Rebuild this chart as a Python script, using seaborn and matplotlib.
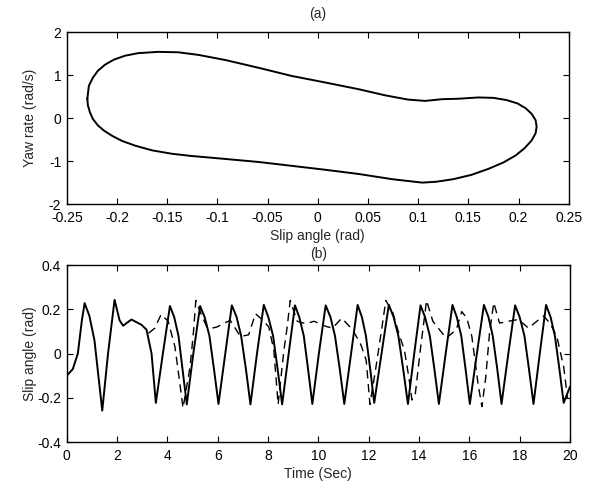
import numpy as np
import pandas as pd
import matplotlib
matplotlib.use("Agg")
import matplotlib.pyplot as plt
import seaborn as sns

# ---------------- data ----------------
# (a) phase-plane loop: slip angle (rad) vs yaw rate (rad/s)
loop_x = [-0.2295, -0.228, -0.224, -0.219, -0.212, -0.203, -0.192, -0.179, -0.159,
          -0.139, -0.119, -0.092, -0.059, -0.026, 0.007, 0.041, 0.067, 0.090,
          0.107, 0.124, 0.140, 0.160, 0.175, 0.188, 0.199, 0.207, 0.213, 0.217,
          0.218, 0.217, 0.213, 0.206, 0.197, 0.185, 0.170, 0.153, 0.135, 0.118,
          0.104, 0.074, 0.041, 0.007, -0.026, -0.059, -0.092, -0.126, -0.145,
          -0.165, -0.182, -0.195, -0.205, -0.213, -0.219, -0.224, -0.227, -0.229,
          -0.2295]
loop_y = [0.45, 0.75, 0.94, 1.10, 1.24, 1.36, 1.45, 1.51, 1.54,
          1.53, 1.47, 1.35, 1.17, 0.98, 0.83, 0.67, 0.53, 0.43,
          0.40, 0.44, 0.45, 0.48, 0.47, 0.42, 0.34, 0.23, 0.10, -0.05,
          -0.20, -0.35, -0.52, -0.70, -0.87, -1.03, -1.18, -1.32, -1.42, -1.48,
          -1.50, -1.42, -1.30, -1.20, -1.11, -1.02, -0.95, -0.88, -0.83,
          -0.75, -0.64, -0.53, -0.41, -0.29, -0.17, -0.02, 0.14, 0.30,
          0.45]

# (b) slip angle time history, solid trace
t_solid = [0.00, 0.24, 0.44, 0.60, 0.71, 0.90, 1.10, 1.41, 1.64, 1.90, 2.10, 2.24,
           2.57, 2.97, 3.17, 3.37, 3.54, 3.82,
           4.10, 4.27, 4.44, 4.60, 4.77, 5.03,
           5.30, 5.48, 5.67, 5.85, 6.03, 6.30,
           6.56, 6.75, 6.93, 7.12, 7.30, 7.56,
           7.83, 8.01, 8.20, 8.38, 8.56, 8.82,
           9.07, 9.24, 9.42, 9.59, 9.76, 10.02,
           10.29, 10.48, 10.66, 10.85, 11.03, 11.30,
           11.56, 11.73, 11.89, 12.06, 12.22, 12.51,
           12.80, 12.99, 13.18, 13.37, 13.56, 13.81,
           14.06, 14.24, 14.43, 14.61, 14.79, 15.06,
           15.33, 15.50, 15.68, 15.85, 16.02, 16.30,
           16.58, 16.76, 16.93, 17.11, 17.28, 17.55,
           17.82, 18.00, 18.19, 18.37, 18.55, 18.80,
           19.05, 19.23, 19.40, 19.58, 19.75, 20.00]
y_solid = [-0.10, -0.07, 0.00, 0.15, 0.228, 0.17, 0.06, -0.258, 0.00, 0.243, 0.15, 0.126,
           0.154, 0.13, 0.108, 0.00, -0.223, 0.00,
           0.215, 0.165, 0.08, -0.07, -0.23, 0.00,
           0.215, 0.165, 0.08, -0.07, -0.228, 0.00,
           0.218, 0.165, 0.08, -0.07, -0.23, 0.00,
           0.22, 0.165, 0.08, -0.07, -0.23, 0.00,
           0.218, 0.165, 0.08, -0.07, -0.228, 0.00,
           0.218, 0.165, 0.08, -0.07, -0.228, 0.00,
           0.22, 0.165, 0.08, -0.07, -0.223, 0.00,
           0.22, 0.165, 0.08, -0.07, -0.228, 0.00,
           0.218, 0.165, 0.08, -0.07, -0.228, 0.00,
           0.22, 0.165, 0.08, -0.07, -0.228, 0.00,
           0.22, 0.165, 0.08, -0.07, -0.228, 0.00,
           0.218, 0.165, 0.08, -0.07, -0.228, 0.00,
           0.22, 0.165, 0.08, -0.07, -0.223, -0.15]

# (b) dashed trace
t_dash = [3.25, 3.50, 3.75, 4.03, 4.30, 4.50, 4.62, 4.90, 5.03, 5.13, 5.37, 5.57,
          5.77, 5.97, 6.20, 6.50, 6.90, 7.23, 7.50, 7.80, 8.03, 8.23, 8.40, 8.63,
          8.76, 8.88, 9.16, 9.50, 9.83, 10.30, 10.56, 10.93, 11.36, 11.69, 11.90,
          12.05, 12.29, 12.49, 12.68, 12.96, 13.20, 13.42, 13.60, 13.72, 13.85,
          14.05, 14.30, 14.55, 15.08, 15.48, 15.70, 15.90, 16.10, 16.35, 16.50,
          16.65, 16.80, 16.97, 17.20, 17.55, 17.95, 18.35, 18.68, 18.95, 19.20,
          19.48, 19.60, 19.75, 19.90]
y_dash = [0.092, 0.115, 0.177, 0.146, 0.03, -0.14, -0.246, -0.06, 0.09, 0.24, 0.17, 0.12,
          0.115, 0.12, 0.135, 0.15, 0.077, 0.085, 0.18, 0.15, 0.12, 0.015, -0.23, 0.015,
          0.12, 0.24, 0.146, 0.135, 0.146, 0.123, 0.115, 0.16, 0.108, 0.04, -0.03,
          -0.23, -0.06, 0.09, 0.24, 0.185, 0.09, 0.015, -0.11, -0.21, -0.185,
          0.015, 0.24, 0.146, 0.07, 0.108, 0.19, 0.16, 0.077, -0.14, -0.24,
          -0.11, 0.09, 0.23, 0.138, 0.146, 0.154, 0.115, 0.146, 0.17, 0.138,
          0.077, 0.015, -0.06, -0.20]

xticks_a = [-0.25, -0.2, -0.15, -0.1, -0.05, 0, 0.05, 0.1, 0.15, 0.2, 0.25]
xticklabels_a = ["-0.25", "-0.2", "-0.15", "-0.1", "-0.05", "0", "0.05", "0.1", "0.15", "0.2", "0.25"]
yticks_a = [-2, -1, 0, 1, 2]
yticklabels_a = ["-2", "-1", "0", "1", "2"]
xticks_b = [0, 2, 4, 6, 8, 10, 12, 14, 16, 18, 20]
xticklabels_b = ["0", "2", "4", "6", "8", "10", "12", "14", "16", "18", "20"]
yticks_b = [-0.4, -0.2, 0, 0.2, 0.4]
yticklabels_b = ["-0.4", "-0.2", "0", "0.2", "0.4"]

# ---------------- style ----------------
sns.set_style("ticks")
plt.rcParams["font.family"] = ["Liberation Sans", "DejaVu Sans"]
FS = 10
plt.rcParams["font.size"] = FS

fig = plt.figure(figsize=(6.07, 4.86), dpi=100)
ax1 = fig.add_axes([0.110, 0.580, 0.827, 0.354])
ax2 = fig.add_axes([0.110, 0.0905, 0.829, 0.364])

df_loop = pd.DataFrame({"x": loop_x, "y": loop_y})
sns.lineplot(data=df_loop, x="x", y="y", sort=False, estimator=None,
             color="black", linewidth=1.4, ax=ax1)

df_s = pd.DataFrame({"t": t_solid, "y": y_solid})
df_d = pd.DataFrame({"t": t_dash, "y": y_dash})
sns.lineplot(data=df_s, x="t", y="y", sort=False, estimator=None,
             color="black", linewidth=1.4, ax=ax2)
sns.lineplot(data=df_d, x="t", y="y", sort=False, estimator=None,
             color="black", linewidth=1.0, ax=ax2, dashes=False)
ax2.lines[-1].set_dashes((6, 4))

for ax in (ax1, ax2):
    for sp in ax.spines.values():
        sp.set_visible(True)
        sp.set_linewidth(1.0)
        sp.set_color("black")
    ax.tick_params(direction="in", top=True, right=True, length=4,
                   width=0.8, labelsize=FS, colors="black")
    ax.tick_params(axis="x", pad=5)
    ax.tick_params(axis="y", pad=4)

ax1.set_xlim(-0.25, 0.25)
ax1.set_ylim(-2, 2)
ax1.set_xticks(xticks_a)
ax1.set_xticklabels(xticklabels_a)
ax1.set_yticks(yticks_a)
ax1.set_yticklabels(yticklabels_a)
ax1.set_xlabel("Slip angle (rad)", fontsize=FS, labelpad=3)
ax1.set_ylabel("Yaw rate (rad/s)", fontsize=FS)
ax1.yaxis.set_label_coords(-0.06, 0.5)
ax1.set_title("(a)", fontsize=FS, pad=10)

ax2.set_xlim(0, 20)
ax2.set_ylim(-0.4, 0.4)
ax2.set_xticks(xticks_b)
ax2.set_xticklabels(xticklabels_b)
ax2.set_yticks(yticks_b)
ax2.set_yticklabels(yticklabels_b)
ax2.set_xlabel("Time (Sec)", fontsize=FS, labelpad=3)
ax2.set_ylabel("Slip angle (rad)", fontsize=FS)
ax2.yaxis.set_label_coords(-0.06, 0.5)
ax2.set_title("(b)", fontsize=FS, pad=5)

fig.savefig("out.png", dpi=100, facecolor="white")
